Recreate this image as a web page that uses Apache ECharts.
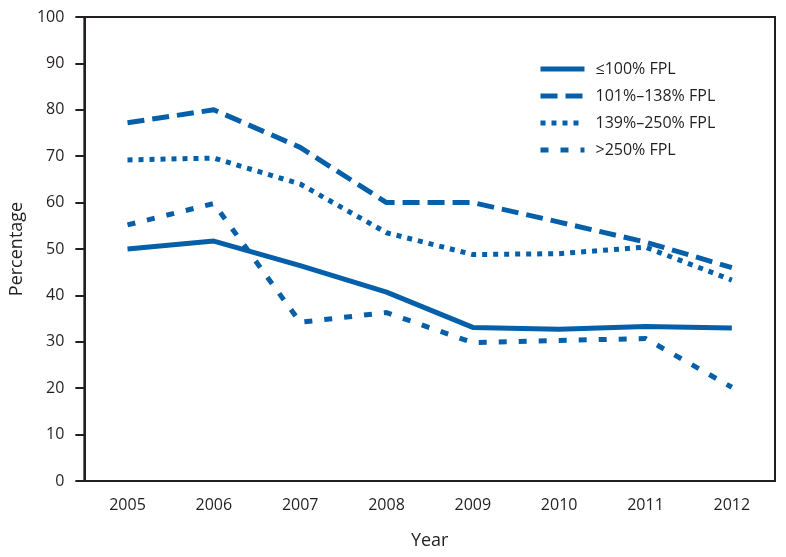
<!DOCTYPE html>
<html>
<head>
<meta charset="utf-8">
<script src="https://cdn.jsdelivr.net/npm/echarts@6/dist/echarts.min.js"></script>
<style>
  html, body { margin: 0; padding: 0; background: #fff; }
  #chart { width: 786px; height: 557px; }
</style>
</head>
<body>
<div id="chart"></div>
<script>
// years on the x axis
const years = ['2005', '2006', '2007', '2008', '2009', '2010', '2011', '2012']

// percentage by income level
const fpl100 = [50.0, 51.7, 46.4, 40.7, 33.1, 32.7, 33.3, 33.0]
const fpl101to138 = [77.2, 80.0, 71.9, 60.0, 60.0, 55.8, 51.5, 46.0]
const fpl139to250 = [69.2, 69.6, 64.0, 53.5, 48.8, 49.0, 50.4, 43.3]
const fplOver250 = [55.2, 59.8, 34.2, 36.3, 29.8, 30.3, 30.7, 20.2]

const seriesNames = ['≤100% FPL', '101%–138% FPL', '139%–250% FPL', '>250% FPL']

const blue = '#0660a9'
const ink = '#231f20'
const font = 'Open Sans'

const chart = echarts.init(document.getElementById('chart'))

function makeLine(name, data, type) {
  return {
    name: name,
    type: 'line',
    data: data,
    symbol: 'none',
    smooth: false,
    lineStyle: { color: blue, width: 5, type: type, cap: 'butt' },
    itemStyle: { color: blue },
  }
}

chart.setOption({
  animation: false,
  grid: {
    left: 81,
    right: 11,
    top: 17,
    bottom: 76,
    show: true,
    borderColor: ink,
    borderWidth: 2,
  },
  legend: {
    orient: 'vertical',
    left: 533,
    top: 56,
    itemWidth: 44,
    itemHeight: 14,
    itemGap: 11,
    itemStyle: { opacity: 0 },
    lineStyle: { width: 5, color: blue },
    textStyle: { fontFamily: font, fontSize: 16, color: ink, padding: [0, 0, 0, 6] },
    data: seriesNames,
  },
  xAxis: {
    type: 'category',
    data: years,
    boundaryGap: true,
    name: 'Year',
    nameLocation: 'middle',
    nameGap: 51,
    nameTextStyle: { fontFamily: font, fontSize: 18, color: ink },
    axisLine: { lineStyle: { color: ink, width: 2 } },
    axisTick: { alignWithLabel: true, length: 8, lineStyle: { color: ink, width: 2 } },
    axisLabel: { fontFamily: font, fontSize: 16, color: ink, margin: 16 },
    splitLine: { show: false },
  },
  yAxis: {
    type: 'value',
    min: 0,
    max: 100,
    interval: 10,
    name: 'Percentage',
    nameLocation: 'middle',
    nameGap: 52,
    nameTextStyle: { fontFamily: font, fontSize: 18, color: ink },
    axisLine: { show: true, lineStyle: { color: ink, width: 2 } },
    axisTick: { show: true, length: 9, lineStyle: { color: ink, width: 2 } },
    axisLabel: { fontFamily: font, fontSize: 16, color: ink, margin: 20 },
    splitLine: { show: false },
  },
  series: [
    makeLine(seriesNames[0], fpl100, 'solid'),
    makeLine(seriesNames[1], fpl101to138, [17, 8]),
    makeLine(seriesNames[2], fpl139to250, [5, 6]),
    makeLine(seriesNames[3], fplOver250, [8, 12]),
  ],
})
</script>
</body>
</html>
